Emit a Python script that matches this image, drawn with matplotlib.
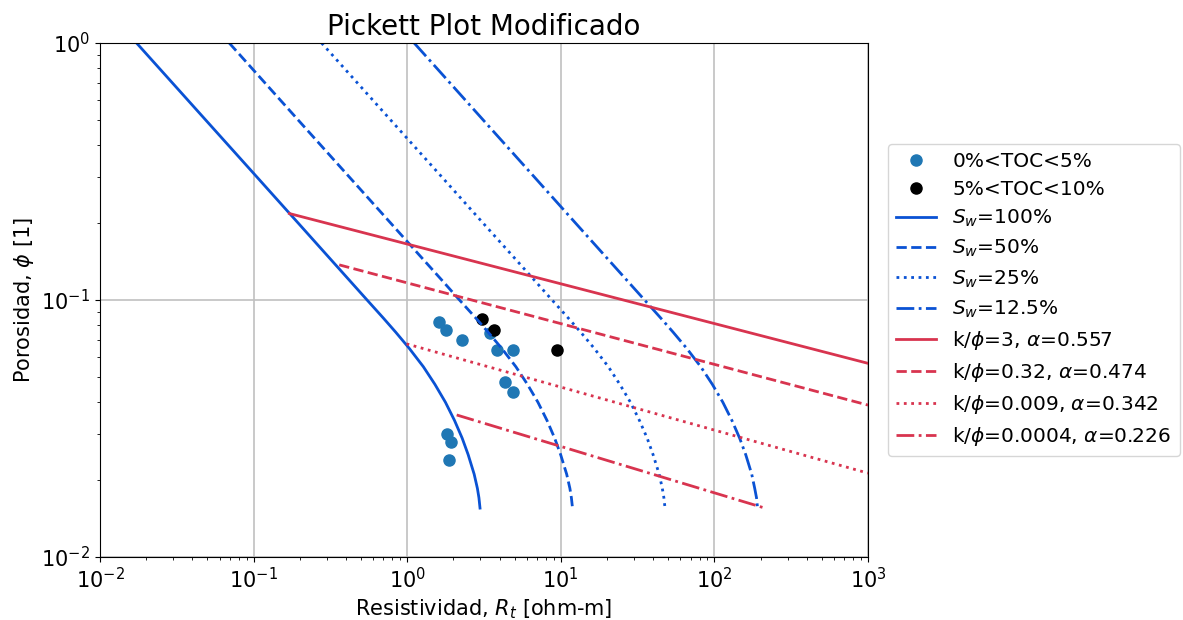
import numpy as np
import matplotlib
matplotlib.use("Agg")
import matplotlib.pyplot as plt

# Data
# scatter points, Rt [ohm-m] and porosity
rt_toc_low = [1.61, 1.79, 2.26, 3.46, 3.82, 4.85, 4.35, 4.89, 1.82, 1.94, 1.88]
phi_toc_low = [0.0821, 0.0762, 0.0699, 0.0742, 0.0641, 0.0641, 0.0481, 0.0439, 0.0301, 0.0280, 0.0239]
rt_toc_high = [3.07, 3.69, 9.49]
phi_toc_high = [0.0841, 0.0762, 0.0641]

# Sw curves: porosity values and resistivity of each curve
phi_sw = [1.0, 0.5, 0.3, 0.2, 0.15, 0.12, 0.1, 0.085, 0.075, 0.065, 0.055,
          0.047, 0.04, 0.034, 0.029, 0.025, 0.021, 0.0185, 0.017, 0.0155]
rt_sw100 = [0.0173, 0.049, 0.1056, 0.194, 0.2985, 0.417, 0.548, 0.700, 0.841, 1.028, 1.274,
            1.514, 1.774, 2.032, 2.28, 2.495, 2.729, 2.864, 2.931, 2.979]
rt_sw50 = [0.0694, 0.196, 0.422, 0.776, 1.194, 1.67, 2.19, 2.80, 3.36, 4.11, 5.10,
           6.06, 7.10, 8.13, 9.12, 9.98, 10.92, 11.46, 11.72, 11.92]
rt_sw25 = [0.277, 0.784, 1.69, 3.10, 4.78, 6.68, 8.77, 11.2, 13.46, 16.45, 20.4,
           24.2, 28.4, 32.5, 36.5, 39.9, 43.7, 45.8, 46.9, 47.7]
rt_sw125 = [1.11, 3.14, 6.76, 12.4, 19.1, 26.7, 35.1, 44.8, 53.8, 65.8, 81.5,
            96.9, 113.5, 130, 146, 160, 175, 183, 188, 191]
sw_labels = ['$S_w$=100%', '$S_w$=50%', '$S_w$=25%', '$S_w$=12.5%']

# k/phi lines (start and end points)
rt_k3 = [0.171, 1000];     phi_k3 = [0.217, 0.0567]
rt_k032 = [0.361, 1000];   phi_k032 = [0.137, 0.039]
rt_k0009 = [0.99, 1000];   phi_k0009 = [0.0675, 0.0212]
rt_k00004 = [2.1, 213];    phi_k00004 = [0.0357, 0.0155]
k_labels = [r'k/$\phi$=3, $\alpha$=0.557', r'k/$\phi$=0.32, $\alpha$=0.474',
            r'k/$\phi$=0.009, $\alpha$=0.342', r'k/$\phi$=0.0004, $\alpha$=0.226']

blue = '#0a52d4'
red = '#d8344f'
styles = ['-', '--', ':', '-.']

fig = plt.figure(figsize=(11.83, 6.2), dpi=100)
ax = fig.add_axes([100/1183, 1-557/620, 768/1183, 514/620])

ax.plot(rt_toc_low, phi_toc_low, 'o', color='#1f77b4', ms=8, label='0%<TOC<5%')
ax.plot(rt_toc_high, phi_toc_high, 'o', color='k', ms=8, label='5%<TOC<10%')

for rt, ls, lab in zip([rt_sw100, rt_sw50, rt_sw25, rt_sw125], styles, sw_labels):
    ax.plot(rt, phi_sw, ls, color=blue, lw=2, label=lab)

for (rt, ph), ls, lab in zip([(rt_k3, phi_k3), (rt_k032, phi_k032),
                              (rt_k0009, phi_k0009), (rt_k00004, phi_k00004)],
                             styles, k_labels):
    ax.plot(rt, ph, ls, color=red, lw=2, label=lab)

ax.set_xscale('log')
ax.set_yscale('log')
ax.set_xlim(1e-2, 1e3)
ax.set_ylim(1e-2, 1e0)
ax.grid(True, which='major', color='#c0c0c0', lw=1.2)
ax.tick_params(labelsize=15)
ax.set_xlabel('Resistividad, $R_t$ [ohm-m]', fontsize=15)
ax.set_ylabel(r'Porosidad, $\phi$ [1]', fontsize=15)
ax.set_title('Pickett Plot Modificado', fontsize=20)

ax.legend(loc='center left', bbox_to_anchor=(1.026, 0.5), borderaxespad=0,
          fontsize=14.5, numpoints=1, labelspacing=0.45)

fig.savefig('out.png', dpi=100)
